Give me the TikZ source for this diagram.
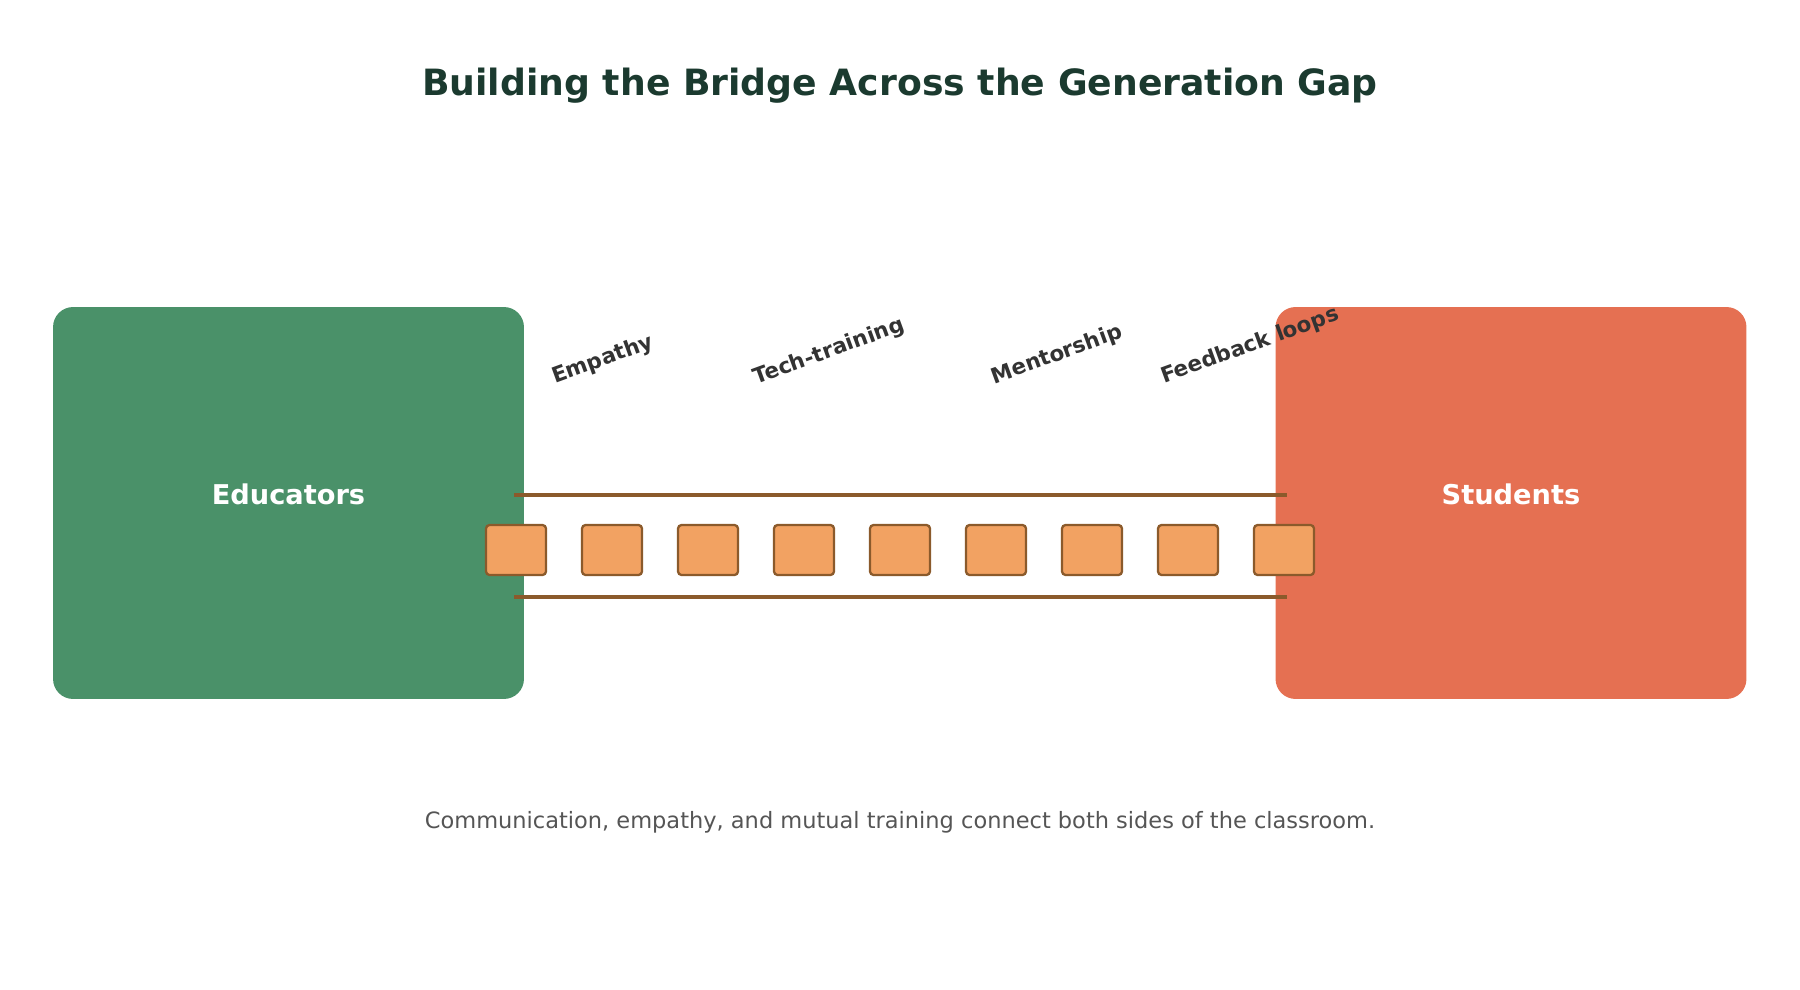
\documentclass[tikz,border=0pt]{standalone}
\usepackage{fontspec}
\setmainfont{DejaVu Sans}
\definecolor{eduGreen}{HTML}{4A9169}
\definecolor{stuOrange}{HTML}{E57052}
\definecolor{plankFill}{HTML}{F2A262}
\definecolor{woodBrown}{HTML}{8B5A2B}
\definecolor{titleInk}{HTML}{1B3A2F}
\definecolor{labelInk}{HTML}{333333}
\definecolor{noteInk}{HTML}{555555}
\tikzset{
  side/.style={fill=#1, rounded corners=0.4cm, minimum width=9.42cm,
    minimum height=7.84cm, inner sep=0pt},
  sidetext/.style={text=white, font=\fontsize{15.5}{18}\selectfont\bfseries},
  rail/.style={draw=woodBrown, line width=2.4pt},
  plank/.style={draw=woodBrown, fill=plankFill, line width=1.3pt,
    rounded corners=2pt, minimum width=1.2cm, minimum height=1cm, inner sep=0pt},
  tag/.style={text=labelInk, rotate=20, font=\fontsize{12.2}{14}\selectfont\bfseries}
}
\begin{document}
\begin{tikzpicture}[x=0.02cm, y=-0.02cm]
  \useasboundingbox (0,0) rectangle (1800,990);
  % title
  \node (title) at (900,86) [text=titleInk, font=\fontsize{20.6}{24}\selectfont\bfseries]
    {Building the Bridge Across the Generation Gap};
  % the two sides
  \node (educators) at (288.5,503) [side=eduGreen] {};
  \node (students)  at (1511,503) [side=stuOrange] {};
  \node (edulabel) at (288.5,494) [sidetext] {Educators};
  \node (stulabel) at (1511,494) [sidetext] {Students};
  % rails
  \coordinate (railTL) at (514,495);
  \coordinate (railTR) at (1287,495);
  \coordinate (railBL) at (514,597);
  \coordinate (railBR) at (1287,597);
  \draw[rail] (railTL) -- (railTR);
  \draw[rail] (railBL) -- (railBR);
  % planks
  \foreach \i in {0,...,8}
    \node (plank\i) at (516+96*\i,550) [plank] {};
  % labels
  \node (empathy)  at (603,360)  [tag] {Empathy};
  \node (tech)     at (829,352)  [tag] {Tech-training};
  \node (mentor)   at (1057,355) [tag] {Mentorship};
  \node (feedback) at (1250,346) [tag] {Feedback loops};
  % caption
  \node (caption) at (900,822) [text=noteInk, font=\fontsize{12.8}{15}\selectfont]
    {Communication, empathy, and mutual training connect both sides of the classroom.};
\end{tikzpicture}
\end{document}
